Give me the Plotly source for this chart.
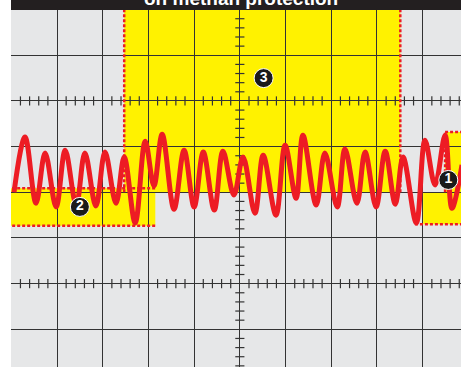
import plotly.graph_objects as go

# ---- data (oscilloscope divisions) ----
time_div = [0.06, 0.30, 0.54, 0.74, 0.98, 1.18, 1.42, 1.61, 1.85, 2.05, 2.29, 2.47,
            2.71, 2.93, 3.12, 3.30, 3.56, 3.78, 4.00, 4.20, 4.44, 4.63, 4.87, 5.07,
            5.33, 5.51, 5.79, 5.99, 6.23, 6.38, 6.67, 6.86, 7.13, 7.30, 7.56, 7.74,
            7.98, 8.18, 8.40, 8.57, 8.86, 9.05, 9.27, 9.49, 9.64, 9.86]
signal_div = [4.00, 5.21, 3.76, 4.86, 3.68, 4.92, 3.72, 4.86, 3.70, 4.88, 3.76, 4.77,
              3.33, 5.12, 4.14, 5.27, 3.63, 4.92, 3.68, 4.88, 3.61, 4.90, 3.94, 4.77,
              3.54, 4.81, 3.50, 5.03, 3.87, 5.25, 3.72, 4.86, 3.68, 4.95, 3.76, 4.88,
              3.68, 4.90, 3.74, 4.77, 3.33, 5.14, 4.16, 5.25, 3.65, 4.60]

zone_labels = ["1", "2", "3"]
zone_x = [9.56, 1.50, 5.52]
zone_y = [4.27, 3.68, 6.50]

title_text = "on methan protection"

YELLOW = "#FFF200"
RED = "#ED1C24"
GRID = "#333333"

fig = go.Figure()

shapes = []
# zone 3
shapes.append(dict(type="rect", x0=2.47, x1=8.51, y0=4.00, y1=8.3, fillcolor=YELLOW,
                   line=dict(width=0), layer="below"))
# zone 2
shapes.append(dict(type="rect", x0=-0.2, x1=3.15, y0=3.27, y1=4.09, fillcolor=YELLOW,
                   line=dict(width=0), layer="below"))
# zone 1 (stepped)
shapes.append(dict(type="path", path="M 9.01 3.30 L 9.01 4.00 L 9.49 4.00 L 9.49 5.32 L 10.2 5.32 L 10.2 3.30 Z",
                   fillcolor=YELLOW, line=dict(width=0), layer="below"))

dash = dict(color=RED, width=2.5, dash="3px,2px")
shapes.append(dict(type="line", x0=2.47, x1=2.47, y0=4.00, y1=8.3, line=dash, layer="between"))
shapes.append(dict(type="line", x0=8.51, x1=8.51, y0=4.00, y1=8.3, line=dash, layer="between"))
shapes.append(dict(type="line", x0=-0.2, x1=3.15, y0=4.09, y1=4.09, line=dash, layer="between"))
shapes.append(dict(type="line", x0=-0.2, x1=3.15, y0=3.27, y1=3.27, line=dash, layer="between"))
shapes.append(dict(type="line", x0=8.83, x1=10.2, y0=3.30, y1=3.30, line=dash, layer="between"))
shapes.append(dict(type="line", x0=9.49, x1=10.2, y0=5.32, y1=5.32, line=dash, layer="between"))
shapes.append(dict(type="line", x0=9.49, x1=9.49, y0=4.00, y1=5.32, line=dash, layer="between"))

# black title bar above plot
shapes.append(dict(type="rect", xref="paper", yref="paper", x0=0, x1=1, y0=1, y1=1.05,
                   fillcolor="#231F20", line=dict(width=0), layer="above"))

# graticule minor ticks
tx, ty = [], []
half = 0.1
for i in range(0, 51):
    v = i * 0.2
    if abs(v - round(v)) < 1e-9:
        continue
    for yc in (2.0, 6.0):
        tx += [v, v, None]
        ty += [yc - half, yc + half, None]
for i in range(0, 41):
    v = i * 0.2
    if abs(v - round(v)) < 1e-9:
        continue
    tx += [5 - half, 5 + half, None]
    ty += [v, v, None]
fig.add_trace(go.Scatter(x=tx, y=ty, mode="lines", line=dict(color=GRID, width=1.2),
                         hoverinfo="skip", showlegend=False))

# waveform
fig.add_trace(go.Scatter(x=time_div, y=signal_div, mode="lines",
                         line=dict(color=RED, width=5, shape="spline", smoothing=1.0),
                         showlegend=False))

# zone badges
fig.add_trace(go.Scatter(x=zone_x, y=zone_y, mode="markers+text", text=zone_labels,
                         textposition="middle center",
                         textfont=dict(color="white", size=14, family="Liberation Sans", weight="bold"),
                         marker=dict(size=19, color="#1A1A1A", line=dict(color="white", width=1)),
                         showlegend=False))

fig.add_annotation(xref="paper", yref="paper", x=0.511, y=1.032, xanchor="center", yanchor="middle",
                   text="<b>" + title_text + "</b>", showarrow=False,
                   font=dict(color="white", size=19, family="Liberation Sans"))

fig.update_layout(
    width=461, height=367, autosize=False,
    margin=dict(l=11, r=0, t=10, b=0, pad=0),
    paper_bgcolor="white", plot_bgcolor="#E6E7E8",
    shapes=shapes,
    xaxis=dict(range=[-0.0066, 9.838], tick0=0, dtick=1, showgrid=True, gridcolor=GRID, gridwidth=1.3,
               zeroline=False, showticklabels=False, ticks="", fixedrange=True),
    yaxis=dict(range=[0.175, 7.991], tick0=0, dtick=1, showgrid=True, gridcolor=GRID, gridwidth=1.3,
               zeroline=False, showticklabels=False, ticks="", fixedrange=True),
)

fig.write_html("out.html", config={"displayModeBar": False},
               post_script="document.body.style.margin='0';document.body.style.overflow='hidden';")
